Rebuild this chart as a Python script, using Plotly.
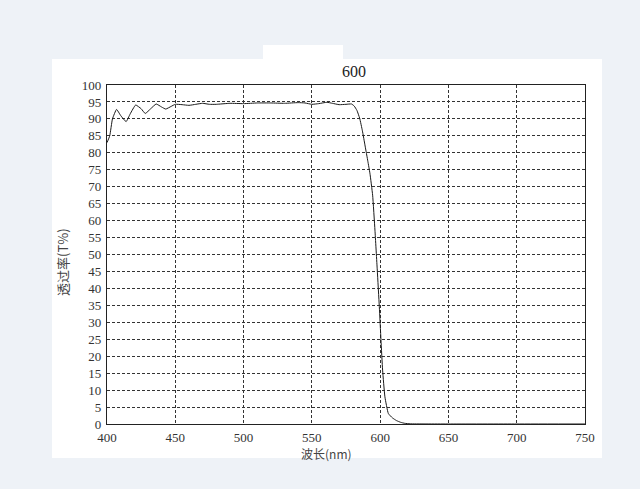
import plotly.graph_objects as go

wavelength = [400, 402, 404, 407, 410, 414, 417, 421, 425, 428, 432, 436, 440, 443, 447,
              450, 455, 460, 465, 470, 475, 480, 490, 500, 510, 520, 530, 540, 545, 550,
              555, 561, 565, 570, 575, 579, 581, 583, 585, 587, 589, 591, 592.5, 594.5,
              596.2, 597.9, 599.4, 600.6, 601.8, 603.5, 606, 609, 612, 615, 618, 622,
              650, 700, 750]
transmittance = [83.0, 85.0, 90.0, 92.8, 91.0, 89.2, 91.5, 94.1, 93.0, 91.6, 93.0, 94.4, 93.5, 92.9, 93.7,
                 94.3, 94.2, 94.0, 94.3, 94.6, 94.3, 94.3, 94.6, 94.5, 94.7, 94.7, 94.6, 94.8, 94.7, 94.3,
                 94.5, 94.9, 94.6, 94.2, 94.3, 94.4, 93.8, 92.5, 90.2, 86.5, 82.0, 77.5, 74.0, 67.5,
                 57.2, 45.4, 34.6, 24.8, 15.9, 8.0, 3.1, 1.8, 1.0, 0.5, 0.2, 0.05,
                 0.0, 0.0, 0.0]

x_ticks = [400, 450, 500, 550, 600, 650, 700, 750]
y_ticks = list(range(0, 101, 5))

title_text = "600"
x_title = "波长(nm)"
y_title = "透过率(T%)"

fig = go.Figure()
fig.add_trace(go.Scatter(
    x=wavelength, y=transmittance, mode="lines",
    line=dict(color="#1a1a1a", width=1, shape="spline", smoothing=0.4),
    showlegend=False, hoverinfo="skip"))

L, R, T, B = 107, 55, 85, 65
pw, ph = 640 - L - R, 489 - T - B

def px(xp):
    return (xp - L) / pw

def py(yp):
    return (489 - B - yp) / ph

serif = "Liberation Serif, Times New Roman, serif"
cjk = "Noto Sans CJK SC, sans-serif"

fig.update_layout(
    width=640, height=489,
    margin=dict(l=L, r=R, t=T, b=B),
    paper_bgcolor="#eef2f7", plot_bgcolor="white",
    font=dict(family=serif, size=13, color="#333"),
    shapes=[
        dict(type="rect", xref="paper", yref="paper", x0=px(52), x1=px(602), y0=py(458), y1=py(59),
             fillcolor="white", line=dict(width=0), layer="below"),
        dict(type="rect", xref="paper", yref="paper", x0=px(263), x1=px(343), y0=py(59), y1=py(45),
             fillcolor="white", line=dict(width=0), layer="below"),
    ],
    annotations=[
        dict(text=title_text, xref="paper", yref="paper", x=px(354), y=py(71), showarrow=False,
             font=dict(family=serif, size=16, color="#222"), xanchor="center", yanchor="middle"),
        dict(text=x_title, xref="paper", yref="paper", x=px(326), y=py(454), showarrow=False,
             font=dict(family=cjk, size=12, color="#444"), xanchor="center", yanchor="middle"),
        dict(text=y_title, xref="paper", yref="paper", x=px(62), y=py(262), showarrow=False,
             textangle=-90, font=dict(family=cjk, size=13, color="#444"),
             xanchor="center", yanchor="middle"),
    ],
)

fig.update_xaxes(
    range=[400, 750], tickvals=x_ticks, ticktext=[str(v) for v in x_ticks],
    showline=True, linecolor="#222", linewidth=1.2, mirror=True,
    showgrid=True, gridcolor="#333", gridwidth=1, griddash="3px,2px",
    ticks="", ticklabelstandoff=1, zeroline=False, fixedrange=True,
    tickfont=dict(family=serif, size=13, color="#333"))
fig.update_yaxes(
    range=[0, 100], tickvals=y_ticks, ticktext=[str(v) for v in y_ticks],
    showline=True, linecolor="#222", linewidth=1.2, mirror=True,
    showgrid=True, gridcolor="#333", gridwidth=1, griddash="3px,2px",
    ticks="", ticklabelstandoff=2, zeroline=False, fixedrange=True,
    tickfont=dict(family=serif, size=13, color="#333"))

fig.write_html(
    "out.html",
    config={"displayModeBar": False},
    post_script="document.body.style.margin='0';document.body.style.background='#eef2f7';")
